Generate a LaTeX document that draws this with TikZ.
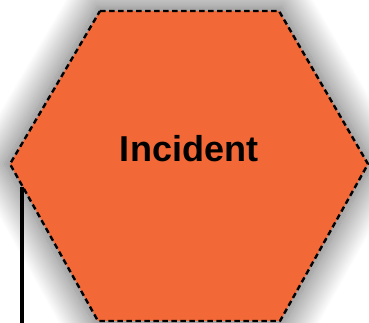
\documentclass[tikz,border=0pt]{standalone}
\usepackage{fontspec}
\setmainfont{Liberation Sans}
\usetikzlibrary{shadows.blur}
\definecolor{hexorange}{RGB}{242,104,54}
\tikzset{
  hexshape/.style={fill=hexorange, draw=black, line width=2.4pt, dash pattern=on 5.5pt off 3.5pt,
    blur shadow={shadow xshift=0pt, shadow yshift=0pt, shadow blur radius=30pt, shadow blur steps=30, shadow opacity=62, shadow scale=1.03}},
  hexlabel/.style={font=\fontsize{36}{40}\selectfont\bfseries, text=black},
  stem/.style={draw=black, line width=3.5pt}
}
\begin{document}
\begin{tikzpicture}[x=1pt,y=1pt]
\useasboundingbox (0,0) rectangle (369,323);
\path[hexshape] (100,312) -- (279,312) -- (368,159) -- (280,2) -- (98,2) -- (10,159) -- cycle;
\node[hexlabel] (lbl) at (189,174) {Incident};
\coordinate (stemtop) at (22,136);
\coordinate (stembot) at (22,-2);
\draw[stem] (stemtop) -- (stembot);
\end{tikzpicture}
\end{document}
